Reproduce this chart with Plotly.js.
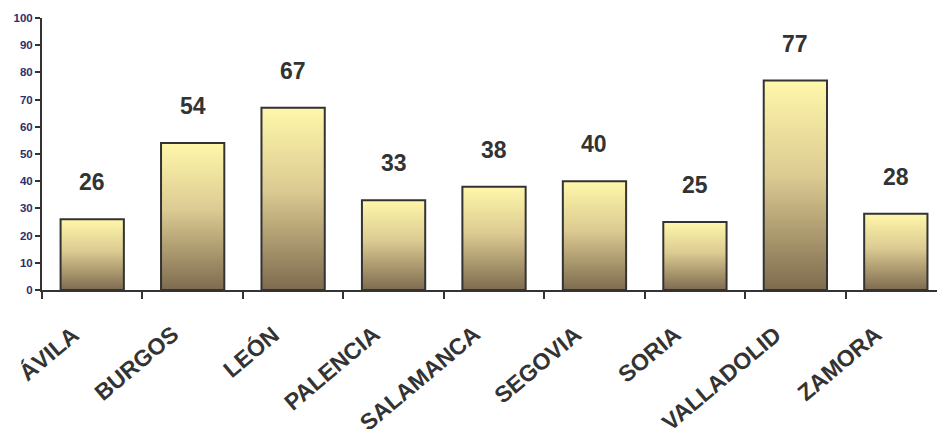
<!DOCTYPE html>
<html>
<head>
<meta charset="utf-8">
<script src="https://cdn.plot.ly/plotly-3.0.1.min.js"></script>
<style>html,body{margin:0;padding:0;background:#fff;}#chart{width:937px;height:429px;}</style>
</head>
<body>
<div id="chart"></div>
<script>
const categories = ["ÁVILA","BURGOS","LEÓN","PALENCIA","SALAMANCA","SEGOVIA","SORIA","VALLADOLID","ZAMORA"];
const values = [26, 54, 67, 33, 38, 40, 25, 77, 28];
const yTicks = [0,10,20,30,40,50,60,70,80,90,100];

const FONT = 'Liberation Sans, Arial, sans-serif';

const trace = {
  type: 'bar',
  x: categories,
  y: values,
  width: 0.63,
  marker: {color: '#c9b77e', line: {color: '#333333', width: 2}},
  hoverinfo: 'none'
};

const valueLabels = categories.map((c, i) => ({
  x: c, y: values[i], xref: 'x', yref: 'y',
  text: String(values[i]), showarrow: false,
  yanchor: 'bottom', yshift: 22,
  font: {family: FONT, size: 23, color: '#333333', weight: 'bold'}
}));

const catLabels = categories.map(c => ({
  x: c, y: 0, xref: 'x', yref: 'y',
  text: c, showarrow: false,
  textangle: -40,
  xanchor: 'right', yanchor: 'top',
  xshift: -6, yshift: -28,
  font: {family: FONT, size: 23, color: '#333333', weight: 'bold'}
}));

const layout = {
  width: 937, height: 429,
  margin: {l: 42, r: 0, t: 18, b: 139},
  paper_bgcolor: '#ffffff', plot_bgcolor: '#ffffff',
  showlegend: false,
  xaxis: {
    type: 'category',
    range: [-0.5, 8.41],
    showgrid: false, zeroline: false,
    showline: true, linecolor: '#333333', linewidth: 2,
    ticks: 'outside', tickson: 'boundaries', ticklen: 7, tickwidth: 2, tickcolor: '#333333',
    showticklabels: false
  },
  yaxis: {
    range: [0, 100],
    tickvals: yTicks,
    showgrid: false, zeroline: false,
    showline: true, linecolor: '#333333', linewidth: 2,
    ticks: 'outside', ticklen: 5, tickwidth: 2, tickcolor: '#333333',
    tickfont: {family: FONT, size: 11.5, color: '#2e2e6b', weight: 'bold'}
  },
  annotations: valueLabels.concat(catLabels)
};

Plotly.newPlot('chart', [trace], layout, {staticPlot: true}).then(gd => {
  const svg = gd.querySelector('svg.main-svg');
  const ns = 'http://www.w3.org/2000/svg';
  let defs = svg.querySelector('defs');
  if (!defs) { defs = document.createElementNS(ns, 'defs'); svg.insertBefore(defs, svg.firstChild); }
  const lg = document.createElementNS(ns, 'linearGradient');
  lg.setAttribute('id', 'barGrad');
  lg.setAttribute('x1', '0'); lg.setAttribute('y1', '0');
  lg.setAttribute('x2', '0'); lg.setAttribute('y2', '1');
  [['0', '#fff7aa'], ['0.45', '#dccb92'], ['1', '#7e6b4f']].forEach(([o, c]) => {
    const s = document.createElementNS(ns, 'stop');
    s.setAttribute('offset', o); s.setAttribute('stop-color', c);
    lg.appendChild(s);
  });
  defs.appendChild(lg);
  gd.querySelectorAll('.bars .point path').forEach(p => { p.style.fill = 'url(#barGrad)'; });
});
</script>
</body>
</html>
